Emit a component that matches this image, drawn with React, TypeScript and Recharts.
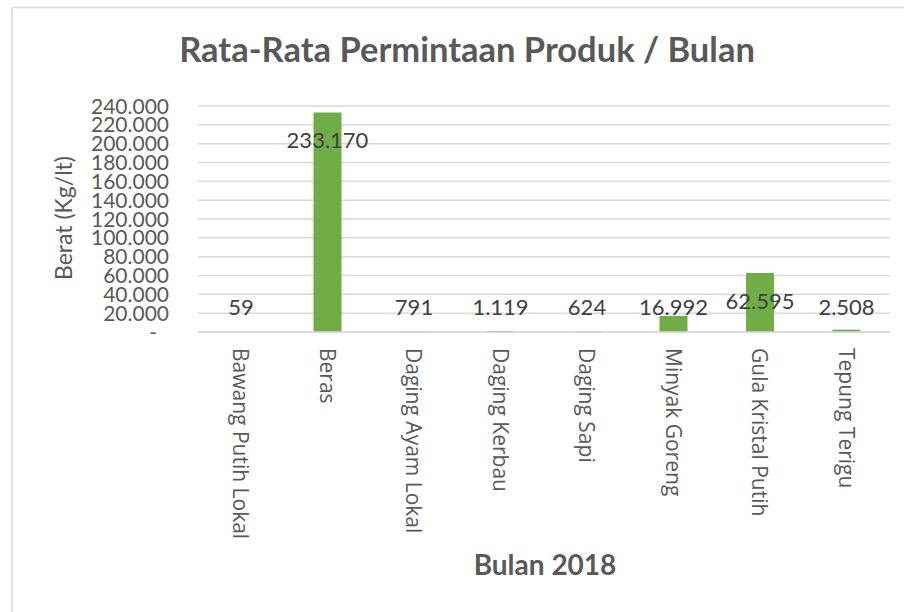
import React from 'react';
import { BarChart, Bar, XAxis, YAxis, CartesianGrid, LabelList } from 'recharts';

const categories = [
  'Bawang Putih Lokal',
  'Beras',
  'Daging Ayam Lokal',
  'Daging Kerbau',
  'Daging Sapi',
  'Minyak Goreng',
  'Gula Kristal Putih',
  'Tepung Terigu',
];
const values = [59, 233170, 791, 1119, 624, 16992, 62595, 2508];
const yTicks = [0, 20000, 40000, 60000, 80000, 100000, 120000, 140000, 160000, 180000, 200000, 220000, 240000];

const title = 'Rata-Rata Permintaan Produk / Bulan';
const yTitle = 'Berat (Kg/lt)';
const xTitle = 'Bulan 2018';

const data = categories.map((name, i) => ({ name, value: values[i] }));

const fmt = (n: number) => String(n).replace(/\B(?=(\d{3})+(?!\d))/g, '.');

const GRAY = '#595959';
const GRID = '#d9d9d9';

const YTick = (props: any) => {
  const { x, y, payload } = props;
  const v = payload.value as number;
  return (
    <text
      x={v === 0 ? x - 12 : x}
      y={y}
      dy="0.36em"
      textAnchor="end"
      fill={GRAY}
      fontFamily="Lato, sans-serif"
      fontSize={21}
    >
      {v === 0 ? '-' : fmt(v)}
    </text>
  );
};

const XTick = (props: any) => {
  const { x, y, payload } = props;
  return (
    <text
      x={0}
      y={0}
      transform={`translate(${x},${y}) rotate(90)`}
      textAnchor="start"
      dominantBaseline="central"
      fill={GRAY}
      fontFamily="'Open Sans', sans-serif"
      fontSize={21}
    >
      {payload.value}
    </text>
  );
};

const DataLabel = (props: any) => {
  const { x, y, width, height, value } = props;
  const bx = Number(x);
  const by = Number(y);
  const bw = Number(width);
  const bh = Number(height);
  const base = by + bh;
  const ly = Math.min(base - 25, by + 28);
  return (
    <text
      x={bx + bw / 2}
      y={ly}
      dy="0.36em"
      textAnchor="middle"
      fill="#404040"
      fontFamily="Lato, sans-serif"
      fontSize={22}
    >
      {fmt(Number(value))}
    </text>
  );
};

export default function App() {
  return (
    <div style={{ position: 'absolute', left: 0, top: 0, width: 904, height: 612, background: '#fff' }}>
      <div style={{ position: 'absolute', left: 0, top: 0 }}>
        <BarChart
          width={904}
          height={612}
          data={data}
          margin={{ top: 106, right: 14, bottom: 80, left: 0 }}
        >
          <CartesianGrid vertical={false} stroke={GRID} strokeWidth={1.5} />
          <XAxis
            dataKey="name"
            height={200}
            interval={0}
            tickLine={false}
            tickSize={0}
            tickMargin={16}
            axisLine={{ stroke: GRID, strokeWidth: 1.5 }}
            tick={<XTick />}
          />
          <YAxis
            width={198}
            domain={[0, 240000]}
            ticks={yTicks}
            interval={0}
            axisLine={false}
            tickLine={false}
            tickSize={0}
            tickMargin={29}
            tick={<YTick />}
          />
          <Bar dataKey="value" fill="#70AD47" barSize={28} isAnimationActive={false}>
            <LabelList dataKey="value" content={<DataLabel />} />
          </Bar>
        </BarChart>
      </div>
      <svg
        width={904}
        height={612}
        style={{ position: 'absolute', left: 0, top: 0, pointerEvents: 'none' }}
      >
        <line x1={12} y1={7.5} x2={904} y2={7.5} stroke={GRID} strokeWidth={1.5} />
        <line x1={12} y1={7} x2={12} y2={612} stroke={GRID} strokeWidth={1.5} />
        <text
          x={467}
          y={62}
          textAnchor="middle"
          fill={GRAY}
          fontFamily="Lato, sans-serif"
          fontWeight="bold"
          fontSize={34.5}
        >
          {title}
        </text>
        <text
          x={0}
          y={0}
          transform="translate(63,218) rotate(-90)"
          textAnchor="middle"
          dominantBaseline="central"
          fill={GRAY}
          fontFamily="Lato, sans-serif"
          fontSize={23}
        >
          {yTitle}
        </text>
        <text
          x={545}
          y={575}
          textAnchor="middle"
          fill={GRAY}
          fontFamily="Lato, sans-serif"
          fontWeight="bold"
          fontSize={28}
        >
          {xTitle}
        </text>
      </svg>
    </div>
  );
}
